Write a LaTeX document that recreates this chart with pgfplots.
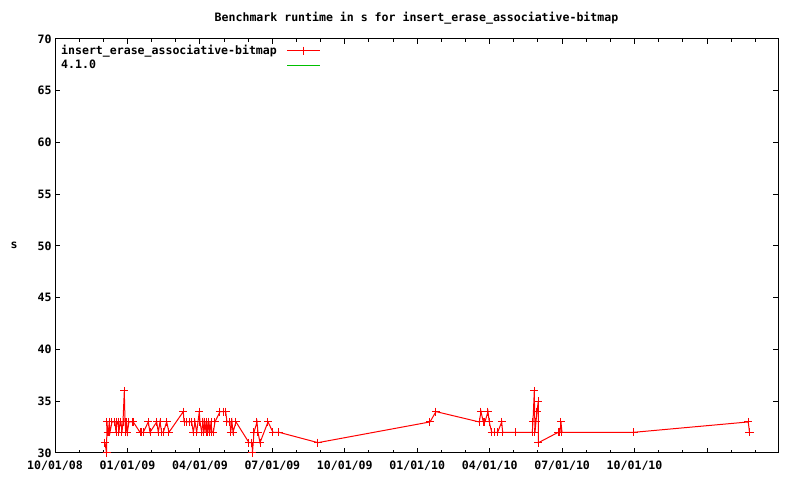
\documentclass[border=0pt]{standalone}
\usepackage{fontspec}
\setmainfont{DejaVu Sans Mono}
\usepackage{pgfplots}
\pgfplotsset{compat=1.18}
\definecolor{gpred}{RGB}{255,0,0}
\definecolor{gpgreen}{RGB}{0,192,0}
% x = months since 10/01/08
\begin{document}
\begin{tikzpicture}[x=1bp,y=1bp,font=\fontsize{11.6}{13}\selectfont\bfseries]
\useasboundingbox (0,0) rectangle (800,480);
\begin{axis}[
  at={(55bp,27bp)}, anchor=south west,
  scale only axis, width=723bp, height=414bp,
  xmin=0, xmax=29.94, ymin=30, ymax=70,
  xtick={0,3,...,27},
  xticklabels={10/01/08,01/01/09,04/01/09,07/01/09,10/01/09,01/01/10,04/01/10,07/01/10,10/01/10,{}},
  minor xtick={1,2,4,5,7,8,10,11,13,14,16,17,19,20,22,23,25,26,28,29},
  ytick={30,35,...,70},
  tick align=inside,
  major tick length=5bp, minor tick length=3bp,
  every tick/.style={black, line width=1bp},
  axis line style={line width=1bp},
  /pgf/number format/assume math mode=true,
  xticklabel style={yshift=-4bp},
  legend style={at={(0,1)}, anchor=north west, draw=none, fill=none,
    legend plot pos=right, cells={anchor=west}, column sep=8bp,
    xshift=2bp, yshift=-2bp, row sep=0bp, inner sep=2bp},
  legend image code/.code={\draw[mark repeat=2,mark phase=2,#1]
    plot coordinates {(0bp,0bp) (16.5bp,0bp) (33bp,0bp)};},
]
\addplot[gpred, line width=1bp, mark=+, mark size=4bp, mark options={line width=1bp}] coordinates {
(2.070,31)(2.133,30)(2.153,33)(2.182,32)(2.207,32)(2.248,33)(2.277,32)(2.360,33)
(2.484,33)(2.526,32)(2.567,33)(2.609,33)(2.650,32)(2.692,33)(2.733,33)(2.774,32)
(2.816,33)(2.870,36)(2.899,33)(2.927,32)(2.969,33)(2.994,32)(3.064,33)(3.201,33)
(3.242,33)(3.520,32)(3.590,32)(3.656,32)(3.863,33)(3.934,32)(4.211,33)(4.277,32)
(4.348,33)(4.418,32)(4.484,32)(4.625,33)(4.720,32)(5.313,34)(5.342,33)(5.453,33)
(5.590,33)(5.660,33)(5.727,32)(5.797,33)(5.867,32)(5.975,34)(6.004,33)(6.075,32)
(6.128,33)(6.170,32)(6.211,33)(6.253,32)(6.294,33)(6.335,32)(6.377,33)(6.418,32)
(6.460,33)(6.501,32)(6.555,32)(6.625,33)(6.832,34)(6.969,34)(7.068,34)(7.122,33)
(7.246,33)(7.275,32)(7.329,33)(7.371,32)(7.495,33)(8.033,31)(8.157,31)(8.178,30)
(8.240,32)(8.364,33)(8.406,32)(8.489,31)(8.820,33)(9.027,32)(9.275,32)(10.890,31)
(15.528,33)(15.776,34)(17.569,33)(17.640,34)(17.735,33)(17.805,33)(17.930,34)(17.983,33)
(18.083,32)(18.219,32)(18.331,32)(18.497,33)(18.538,32)(19.077,32)(19.764,32)(19.793,33)
(19.847,36)(19.876,32)(19.917,33)(19.959,34)(20.012,35)(20.021,31)(20.841,32)(20.911,32)
(20.952,33)(20.994,32)(23.975,32)(28.708,33)(28.758,32)(28.778,32)
};
\addlegendentry{insert\_erase\_associative-bitmap}
\addlegendimage{gpgreen, line width=1bp}
\addlegendentry{4.1.0}
\end{axis}
\node at (416.5,462) {Benchmark runtime in s for insert\_erase\_associative-bitmap};
\node at (14,235) {s};
\end{tikzpicture}
\end{document}
